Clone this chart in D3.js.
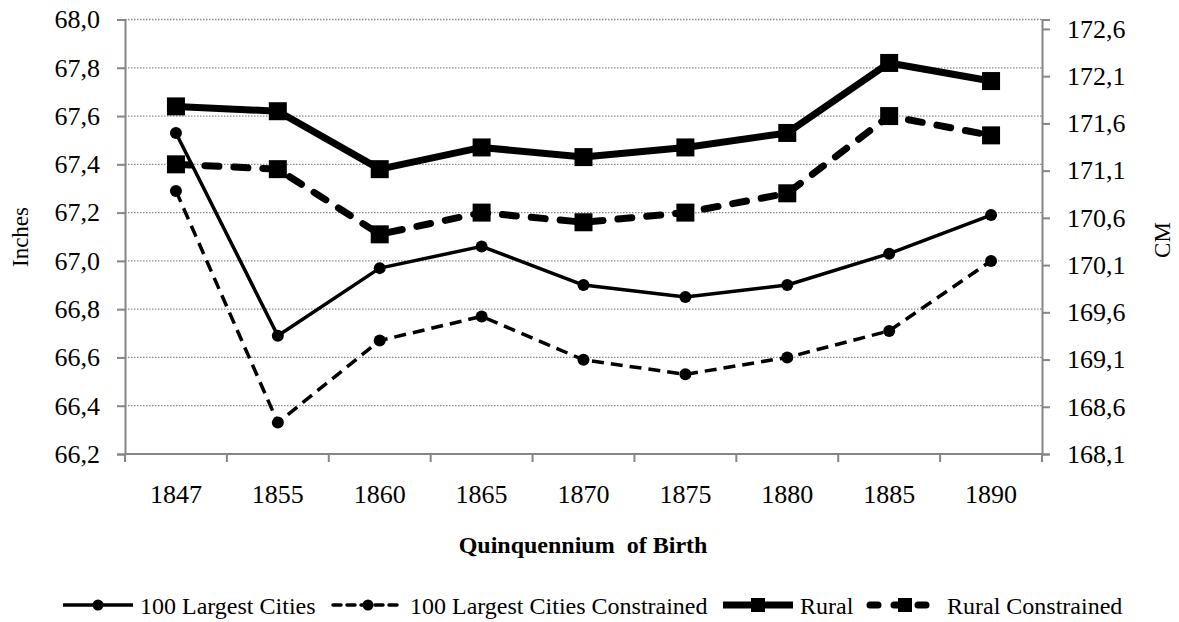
<!DOCTYPE html>
<html>
<head>
<meta charset="utf-8">
<script src="https://cdn.jsdelivr.net/npm/d3@7"></script>
<style>
  body { margin: 0; background: #fff; font-family: "Liberation Serif", "Times New Roman", Times, serif; }
  svg text { font-family: "Liberation Serif", "Times New Roman", Times, serif !important; fill: #000; }
</style>
</head>
<body>
<script>
// data (inches)
var years = ["1847", "1855", "1860", "1865", "1870", "1875", "1880", "1885", "1890"];
var cities = [67.53, 66.69, 66.97, 67.06, 66.90, 66.85, 66.90, 67.03, 67.19];
var citiesConstrained = [67.29, 66.33, 66.67, 66.77, 66.59, 66.53, 66.60, 66.71, 67.00];
var rural = [67.64, 67.62, 67.38, 67.47, 67.43, 67.47, 67.53, 67.82, 67.745];
var ruralConstrained = [67.40, 67.38, 67.11, 67.20, 67.16, 67.20, 67.28, 67.60, 67.52];
var leftTicks = [66.2, 66.4, 66.6, 66.8, 67.0, 67.2, 67.4, 67.6, 67.8, 68.0];
var rightTicks = [168.1, 168.6, 169.1, 169.6, 170.1, 170.6, 171.1, 171.6, 172.1, 172.6];

var W = 1179, H = 622;
var plotL = 125, plotR = 1042, plotT = 19.5, plotB = 454;
var serif = "Liberation Serif, Times New Roman, serif";

var svg = d3.select("body").append("svg").attr("width", W).attr("height", H)
    .attr("font-family", serif);

var x = d3.scaleBand().domain(years).range([plotL, plotR]);
var y = d3.scaleLinear().domain([66.2, 68.0]).range([plotB, plotT]);
var y2 = d3.scaleLinear().domain([168.1, 172.7]).range([plotB, plotT]);
var fmt = function(d) { return d3.format(".1f")(d).replace(".", ","); };

// gridlines
svg.append("g").selectAll("line").data(leftTicks.slice(1)).enter().append("line")
    .attr("x1", plotL).attr("x2", plotR)
    .attr("y1", function(d) { return y(d); }).attr("y2", function(d) { return y(d); })
    .attr("stroke", "#8c8c8c").attr("stroke-width", 1.3).attr("stroke-dasharray", "1.5,1.5");

// left axis
var gl = svg.append("g").attr("transform", "translate(" + plotL + ",0)")
    .call(d3.axisLeft(y).tickValues(leftTicks).tickFormat(fmt).tickSize(8).tickPadding(17));
// right axis
var gr = svg.append("g").attr("transform", "translate(" + plotR + ",0)")
    .call(d3.axisRight(y2).tickValues(rightTicks).tickFormat(fmt).tickSize(8).tickPadding(17));
// bottom axis
var gb = svg.append("g").attr("transform", "translate(0," + plotB + ")")
    .call(d3.axisBottom(x).tickSize(0).tickPadding(31));
svg.append("g").selectAll("line").data(d3.range(years.length + 1)).enter().append("line")
    .attr("x1", function(i) { return plotL + i * x.step(); })
    .attr("x2", function(i) { return plotL + i * x.step(); })
    .attr("y1", plotB).attr("y2", plotB + 8)
    .attr("stroke", "#868686").attr("stroke-width", 2);

[gl, gr, gb].forEach(function(g) {
  g.attr("font-family", serif).attr("font-size", 26);
  g.select(".domain").attr("stroke", "#868686").attr("stroke-width", 2);
  g.selectAll(".tick line").attr("stroke", "#868686").attr("stroke-width", 2);
  g.selectAll(".tick text").attr("font-family", serif).attr("font-size", 26).attr("fill", "#000");
});
gb.select(".domain").attr("d", "M" + plotL + ",0H" + plotR);

// axis titles
svg.append("text").attr("transform", "translate(28,237) rotate(-90)")
    .attr("text-anchor", "middle").attr("font-size", 23).text("Inches");
svg.append("text").attr("transform", "translate(1170,240) rotate(-90)")
    .attr("text-anchor", "middle").attr("font-size", 23).text("CM");
svg.append("text").attr("x", 583).attr("y", 553).attr("text-anchor", "middle")
    .attr("font-size", 24).attr("font-weight", "bold").style("white-space", "pre")
    .text("Quinquennium  of Birth");

var series = [
  { name: "100 Largest Cities", values: cities, width: 3.5, dash: null, cap: "butt", marker: "circle" },
  { name: "100 Largest Cities Constrained", values: citiesConstrained, width: 3.5, dash: "12,7", cap: "butt", marker: "circle" },
  { name: "Rural", values: rural, width: 7, dash: null, cap: "butt", marker: "square" },
  { name: "Rural Constrained", values: ruralConstrained, width: 7, dash: "14,15", cap: "round", marker: "square" }
];

var line = d3.line()
    .x(function(d, i) { return x(years[i]) + x.bandwidth() / 2; })
    .y(function(d) { return y(d); });

function drawMarker(g, type, cx, cy, sz) {
  if (type === "circle") {
    g.append("circle").attr("cx", cx).attr("cy", cy).attr("r", sz / 2).attr("fill", "#000");
  } else {
    g.append("rect").attr("x", cx - sz / 2).attr("y", cy - sz / 2).attr("width", sz).attr("height", sz).attr("fill", "#000");
  }
}

series.forEach(function(s) {
  var g = svg.append("g");
  g.append("path").datum(s.values).attr("d", line)
      .attr("fill", "none").attr("stroke", "#000").attr("stroke-width", s.width)
      .attr("stroke-dasharray", s.dash).attr("stroke-linecap", s.cap)
      .attr("stroke-linejoin", "round");
  s.values.forEach(function(v, i) {
    drawMarker(g, s.marker, x(years[i]) + x.bandwidth() / 2, y(v), s.marker === "circle" ? 12 : 18);
  });
});

// legend
var legendX = [63, 333, 723, 870];
var ly = 605;
series.forEach(function(s, i) {
  var g = svg.append("g");
  var x0 = legendX[i];
  g.append("line").attr("x1", x0).attr("x2", x0 + 70).attr("y1", ly).attr("y2", ly)
      .attr("stroke", "#000").attr("stroke-width", s.width)
      .attr("stroke-dasharray", s.dash ? (s.width > 4 ? "8,16" : "8,6") : null)
      .attr("stroke-linecap", s.dash ? "round" : "butt");
  drawMarker(g, s.marker, x0 + 35, ly, s.marker === "circle" ? 11 : 14);
  g.append("text").attr("x", x0 + 77).attr("y", ly + 9).attr("font-size", 24).text(s.name);
});
</script>
</body>
</html>
